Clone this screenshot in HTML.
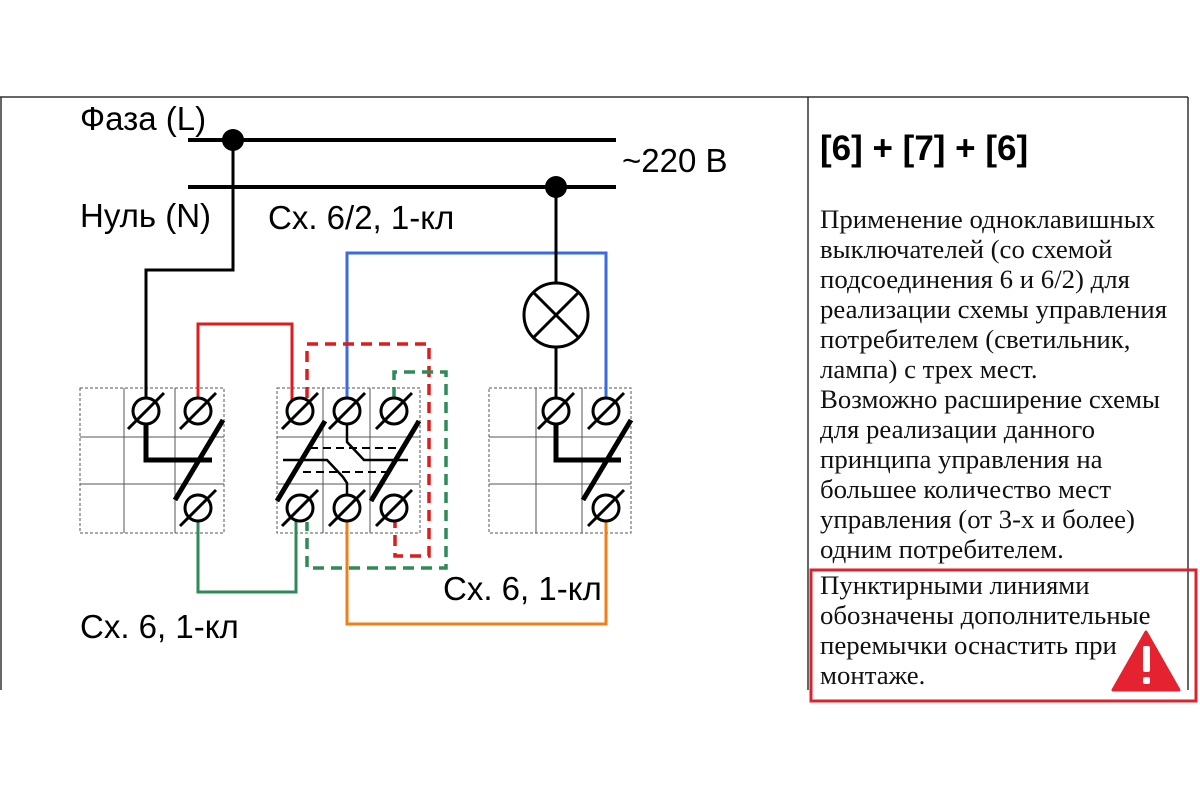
<!DOCTYPE html>
<html><head><meta charset="utf-8"><style>
html,body{margin:0;padding:0;background:#fff;}
svg{display:block}
</style></head><body>
<svg width="1200" height="800" viewBox="0 0 1200 800" xmlns="http://www.w3.org/2000/svg">
<g stroke="#333" stroke-width="1.5" fill="none">
<line x1="0" y1="97" x2="1188" y2="97"/>
<line x1="1" y1="97" x2="1" y2="690"/>
<line x1="808" y1="97" x2="808" y2="690"/>
<line x1="1188" y1="97" x2="1188" y2="690"/>
</g>
<g stroke="#000" stroke-width="4">
<line x1="188" y1="140" x2="616" y2="140"/>
<line x1="188" y1="187" x2="616" y2="187"/>
</g>
<circle cx="233" cy="140" r="11" fill="#000"/>
<circle cx="556" cy="187" r="11" fill="#000"/>
<g font-family="Liberation Sans, sans-serif" font-size="33" fill="#000">
<text x="80" y="130">Фаза (L)</text>
<text x="80" y="227">Нуль (N)</text>
<text x="622" y="172">~220 В</text>
<text x="268" y="229">Сх. 6/2, 1-кл</text>
<text x="443" y="600">Сх. 6, 1-кл</text>
<text x="80" y="638">Сх. 6, 1-кл</text>
</g>
<g stroke="#555" stroke-width="1" fill="none">
<rect x="80" y="388" width="144" height="145" stroke-dasharray="3 2"/>
<line x1="124" y1="388" x2="124" y2="533"/><line x1="175" y1="388" x2="175" y2="533"/>
<line x1="80" y1="437" x2="224" y2="437"/><line x1="80" y1="484" x2="224" y2="484"/>
<rect x="277" y="388" width="143" height="145" stroke-dasharray="3 2"/>
<line x1="323" y1="388" x2="323" y2="533"/><line x1="370" y1="388" x2="370" y2="533"/>
<line x1="277" y1="437" x2="420" y2="437"/><line x1="277" y1="484" x2="420" y2="484"/>
<rect x="489" y="388" width="142" height="145" stroke-dasharray="3 2"/>
<line x1="536" y1="388" x2="536" y2="533"/><line x1="582" y1="388" x2="582" y2="533"/>
<line x1="489" y1="437" x2="631" y2="437"/><line x1="489" y1="484" x2="631" y2="484"/>
</g>
<g fill="none" stroke-width="3">
<polyline stroke="#000" points="233,140 233,270 146,270 146,400"/>
<polyline stroke="#e01b1b" points="198,400 198,324 292,324 292,402"/>
<polyline stroke="#2e8b57" points="198,520 198,592 296,592 296,520"/>
<polyline stroke="#3a6be0" points="347,400 347,253 606,253 606,400"/>
<polyline stroke="#f07f1a" points="347,520 347,624 606,624 606,520"/>
<polyline stroke="#000" points="556,187 556,283"/>
<polyline stroke="#000" points="556,347 556,400"/>
</g>
<g fill="none" stroke-width="3.5" stroke-dasharray="11 7">
<polyline stroke="#e01b1b" points="307,398 307,344 429,344 429,556 395,556 395,522"/>
<polyline stroke="#2e8b57" points="394,398 394,372 446,372 446,568 307,568 307,522"/>
</g>
<circle cx="556" cy="315" r="32" fill="#fff" stroke="#000" stroke-width="3"/>
<g stroke="#000" stroke-width="3"><line x1="533" y1="292" x2="579" y2="338"/><line x1="579" y1="292" x2="533" y2="338"/></g>
<g stroke="#000" fill="none">
<polyline stroke-width="5" points="146,423 146,460 212,460"/>
<line stroke-width="5" x1="175" y1="500" x2="223" y2="420"/>
<polyline stroke-width="5" points="556,423 556,460 621,460"/>
<line stroke-width="5" x1="583" y1="500" x2="631" y2="420"/>
<line stroke-width="5" x1="277" y1="501" x2="325" y2="421"/>
<line stroke-width="5" x1="371" y1="501" x2="419" y2="421"/>
<polyline stroke-width="2.5" points="283,460 327,460 343,477 347,483 347,496"/>
<polyline stroke-width="2.5" points="347,423 347,442 364,460 408,460"/>
<line stroke-width="2" stroke-dasharray="8 5" x1="310" y1="448" x2="400" y2="448"/>
<line stroke-width="2" stroke-dasharray="8 5" x1="303" y1="472" x2="390" y2="472"/>
</g>
<g stroke="#000" stroke-width="3" fill="#fff">
<g transform="translate(146,411)"><circle r="13"/><line x1="-18" y1="18" x2="18" y2="-18"/></g>
<g transform="translate(198,411)"><circle r="13"/><line x1="-18" y1="18" x2="18" y2="-18"/></g>
<g transform="translate(198,508)"><circle r="13"/><line x1="-18" y1="18" x2="18" y2="-18"/></g>
<g transform="translate(300,411)"><circle r="13"/><line x1="-18" y1="18" x2="18" y2="-18"/></g>
<g transform="translate(347,411)"><circle r="13"/><line x1="-18" y1="18" x2="18" y2="-18"/></g>
<g transform="translate(394,411)"><circle r="13"/><line x1="-18" y1="18" x2="18" y2="-18"/></g>
<g transform="translate(300,508)"><circle r="13"/><line x1="-18" y1="18" x2="18" y2="-18"/></g>
<g transform="translate(347,508)"><circle r="13"/><line x1="-18" y1="18" x2="18" y2="-18"/></g>
<g transform="translate(394,508)"><circle r="13"/><line x1="-18" y1="18" x2="18" y2="-18"/></g>
<g transform="translate(556,411)"><circle r="13"/><line x1="-18" y1="18" x2="18" y2="-18"/></g>
<g transform="translate(606,411)"><circle r="13"/><line x1="-18" y1="18" x2="18" y2="-18"/></g>
<g transform="translate(606,508)"><circle r="13"/><line x1="-18" y1="18" x2="18" y2="-18"/></g>
</g>
<text x="820" y="160" font-family="Liberation Sans, sans-serif" font-weight="bold" font-size="35" fill="#000">[6] + [7] + [6]</text>
<g font-family="Liberation Serif, serif" font-size="26.8" fill="#111">
<text x="820" y="228">Применение одноклавишных</text>
<text x="820" y="258">выключателей (со схемой</text>
<text x="820" y="288">подсоединения 6 и 6/2) для</text>
<text x="820" y="318">реализации схемы управления</text>
<text x="820" y="348">потребителем (светильник,</text>
<text x="820" y="378">лампа) с трех мест.</text>
<text x="820" y="408">Возможно расширение схемы</text>
<text x="820" y="438">для реализации данного</text>
<text x="820" y="468">принципа управления на</text>
<text x="820" y="498">большее количество мест</text>
<text x="820" y="528">управления (от 3-х и более)</text>
<text x="820" y="558">одним потребителем.</text>
<text x="820" y="594">Пунктирными линиями</text>
<text x="820" y="624">обозначены дополнительные</text>
<text x="820" y="654">перемычки оснастить при</text>
<text x="820" y="684">монтаже.</text>
</g>
<rect x="811" y="570" width="385" height="131" fill="none" stroke="#d9232e" stroke-width="3"/>
<path d="M1146,632 L1179,690 L1113,690 Z" fill="#e52330" stroke="#e52330" stroke-width="3" stroke-linejoin="round"/>
<rect x="1143" y="646" width="7" height="26" rx="2" fill="#fff"/>
<rect x="1143" y="677" width="7" height="7" rx="2" fill="#fff"/>
</svg>
</body></html>
